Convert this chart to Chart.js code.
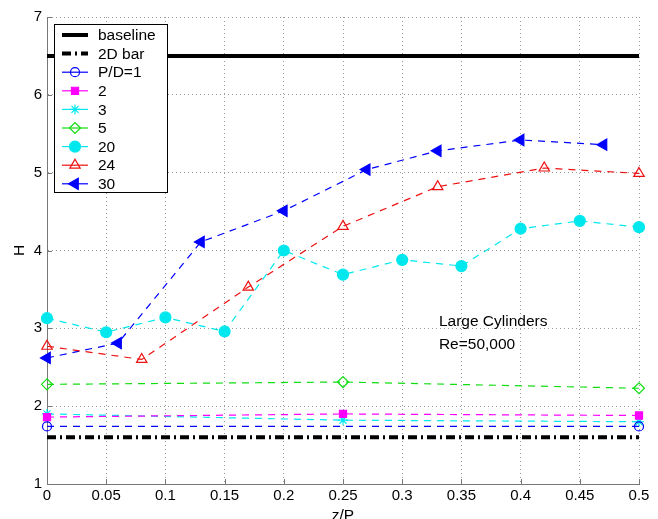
<!DOCTYPE html>
<html><head><meta charset="utf-8">
<script src="https://cdn.jsdelivr.net/npm/chart.js@4/dist/chart.umd.min.js"></script>
<style>html,body{margin:0;padding:0;background:#fff;}canvas{display:block;}</style>
</head><body>
<canvas id="c" width="658" height="519" style="width:658px;height:519px"></canvas>
<script>
// ---- data ----
const xTickLabels = ['0','0.05','0.1','0.15','0.2','0.25','0.3','0.35','0.4','0.45','0.5'];
const yTickLabels = ['1','2','3','4','5','6','7'];
const seriesNames = ['baseline','2D bar','P/D=1','2','3','5','20','24','30'];

const baselineZ = [0, 0.5];
const baselineH = [6.5, 6.5];
const bar2dZ = [0, 0.5];
const bar2dH = [1.6, 1.6];
const pd1Z = [0, 0.5];
const pd1H = [1.74, 1.74];
const pd2Z = [0, 0.25, 0.5];
const pd2H = [1.86, 1.90, 1.88];
const pd3Z = [0, 0.25, 0.5];
const pd3H = [1.90, 1.82, 1.80];
const pd5Z = [0, 0.25, 0.5];
const pd5H = [2.28, 2.31, 2.23];
const pd20Z = [0, 0.05, 0.1, 0.15, 0.2, 0.25, 0.3, 0.35, 0.4, 0.45, 0.5];
const pd20H = [3.13, 2.95, 3.14, 2.96, 4.00, 3.69, 3.88, 3.80, 4.28, 4.38, 4.30];
const pd24Z = [0, 0.08, 0.17, 0.25, 0.33, 0.42, 0.5];
const pd24H = [2.77, 2.60, 3.53, 4.31, 4.82, 5.06, 4.99];
const pd30Z = [0, 0.06, 0.13, 0.2, 0.27, 0.33, 0.4, 0.47];
const pd30H = [2.62, 2.81, 4.11, 4.51, 5.04, 5.28, 5.42, 5.36];

const annotLines = ['Large Cylinders', 'Re=50,000'];
const annotZ = 0.331;
const annotH = [3.09, 2.79];

// ---- build ----
const pts = (zs, hs) => zs.map((z, i) => ({x: z, y: hs[i]}));
const FONT = '"Liberation Sans", Arial, Helvetica, sans-serif';
const NONE = 'rgba(0,0,0,0)';
const DASH = [7, 6];
const DASHDOT = [9, 4, 2, 4];

function ds(label, data, color, opts) {
  return Object.assign({
    label, data, borderColor: color, backgroundColor: NONE,
    pointBorderColor: color, pointBackgroundColor: NONE,
    borderWidth: 1.2, borderDash: DASH, pointRadius: 0, pointBorderWidth: 1.2,
    pointStyle: 'circle', pointRotation: 0, tension: 0, clip: false, fill: false
  }, opts);
}

const datasets = [
  ds(seriesNames[0], pts(baselineZ, baselineH), '#000', {borderWidth: 4, borderDash: []}),
  ds(seriesNames[1], pts(bar2dZ, bar2dH), '#000', {borderWidth: 4, borderDash: DASHDOT}),
  ds(seriesNames[2], pts(pd1Z, pd1H), '#0000ff', {pointRadius: 4.5}),
  ds(seriesNames[3], pts(pd2Z, pd2H), '#ff00ff', {pointRadius: 5, pointStyle: 'rect', pointBackgroundColor: '#ff00ff'}),
  ds(seriesNames[4], pts(pd3Z, pd3H), '#00e8ee', {pointRadius: 5, pointStyle: 'star'}),
  ds(seriesNames[5], pts(pd5Z, pd5H), '#11dd11', {pointRadius: 5.5, pointStyle: 'rectRot'}),
  ds(seriesNames[6], pts(pd20Z, pd20H), '#00e8ee', {pointRadius: 5.5, pointBackgroundColor: '#00e8ee'}),
  ds(seriesNames[7], pts(pd24Z, pd24H), '#ee1111', {pointRadius: 6, pointStyle: 'triangle'}),
  ds(seriesNames[8], pts(pd30Z, pd30H), '#0000ff', {pointRadius: 6.5, pointStyle: 'triangle', pointRotation: -90, pointBackgroundColor: '#0000ff'})
];

const AXIS = '#777';

function drawMarker(ctx, d, x, y) {
  if (!d.pointRadius) return;
  ctx.save();
  ctx.fillStyle = d.pointBackgroundColor;
  ctx.strokeStyle = d.pointBorderColor;
  ctx.lineWidth = d.pointBorderWidth;
  ctx.setLineDash([]);
  if (Chart.helpers && Chart.helpers.drawPoint) {
    Chart.helpers.drawPoint(ctx, {pointStyle: d.pointStyle, rotation: d.pointRotation, radius: d.pointRadius, borderWidth: d.pointBorderWidth}, x, y);
  } else {
    ctx.beginPath(); ctx.arc(x, y, d.pointRadius, 0, Math.PI * 2); ctx.fill(); ctx.stroke();
  }
  ctx.restore();
}

const extras = {
  id: 'extras',
  afterDatasetsDraw(chart) {
    const {ctx, chartArea: a, scales: {x, y}} = chart;
    ctx.save();
    // inward ticks
    ctx.strokeStyle = AXIS; ctx.lineWidth = 1;
    x.ticks.forEach(t => {
      const px = Math.round(x.getPixelForValue(t.value)) + 0.5;
      ctx.beginPath(); ctx.moveTo(px, a.bottom); ctx.lineTo(px, a.bottom - 5); ctx.stroke();
    });
    y.ticks.forEach(t => {
      const py = Math.round(y.getPixelForValue(t.value)) + 0.5;
      ctx.beginPath(); ctx.moveTo(a.left, py); ctx.lineTo(a.left + 5, py); ctx.stroke();
    });
    // annotation text
    ctx.fillStyle = '#000';
    ctx.font = '15.5px ' + FONT;
    ctx.textAlign = 'left'; ctx.textBaseline = 'middle';
    annotLines.forEach((s, i) => ctx.fillText(s, x.getPixelForValue(annotZ), y.getPixelForValue(annotH[i])));
    // legend
    const bx = a.left + 7, by = a.top + 7, bw = 113, bh = 168, rowH = 18.6;
    ctx.fillStyle = '#fff';
    ctx.fillRect(bx, by, bw, bh);
    ctx.strokeStyle = '#000'; ctx.lineWidth = 1;
    ctx.strokeRect(Math.round(bx) + 0.5, Math.round(by) + 0.5, bw, bh);
    ctx.font = '15.5px ' + FONT;
    chart.data.datasets.forEach((d, i) => {
      const cy = by + 11 + i * rowH;
      ctx.save();
      ctx.strokeStyle = d.borderColor;
      ctx.lineWidth = d.borderWidth;
      ctx.setLineDash(i === 1 ? DASHDOT : []);
      ctx.beginPath(); ctx.moveTo(bx + 8, cy); ctx.lineTo(bx + 34, cy); ctx.stroke();
      ctx.restore();
      drawMarker(ctx, d, bx + 21, cy);
      ctx.fillStyle = '#000';
      ctx.textAlign = 'left'; ctx.textBaseline = 'middle';
      ctx.fillText(d.label, bx + 44, cy + 1);
    });
    ctx.restore();
  }
};

new Chart(document.getElementById('c'), {
  type: 'line',
  data: {datasets},
  options: {
    responsive: false,
    animation: false,
    devicePixelRatio: 1,
    layout: {padding: {top: 17, right: 19, left: 0, bottom: 0}},
    plugins: {legend: {display: false}, tooltip: {enabled: false}},
    scales: {
      x: {
        type: 'linear', min: 0, max: 0.5,
        afterFit(s) { s.height = 35; },
        afterBuildTicks(s) { s.ticks = xTickLabels.map(v => ({value: parseFloat(v)})); },
        ticks: {color: '#000', font: {size: 15, family: FONT}, padding: 3, maxRotation: 0, autoSkip: false,
          callback: (v, i) => xTickLabels[i]},
        grid: {color: '#9a9a9a', lineWidth: 1, drawTicks: false},
        border: {display: true, color: AXIS, width: 1, dash: [1, 3]},
        title: {display: true, text: 'z/P', color: '#000', font: {size: 15.5, family: FONT}, padding: {top: 0, bottom: -6}}
      },
      y: {
        type: 'linear', min: 1, max: 7,
        afterFit(s) { s.width = 47; },
        afterBuildTicks(s) { s.ticks = yTickLabels.map(v => ({value: parseFloat(v)})); },
        ticks: {color: '#000', font: {size: 15, family: FONT}, padding: 5, autoSkip: false,
          callback: (v, i) => yTickLabels[i]},
        grid: {color: '#9a9a9a', lineWidth: 1, drawTicks: false},
        border: {display: true, color: AXIS, width: 1, dash: [1, 3]},
        title: {display: true, text: 'H', color: '#000', font: {size: 15.5, family: FONT}, padding: {top: 10, bottom: 0}}
      }
    }
  },
  plugins: [extras]
});
</script>
</body></html>
